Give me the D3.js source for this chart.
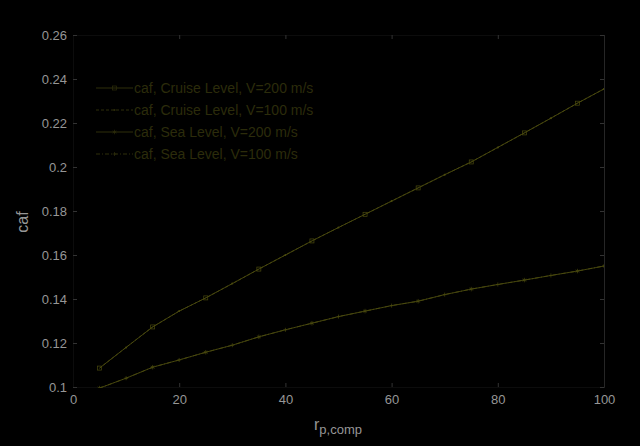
<!DOCTYPE html>
<html><head><meta charset="utf-8">
<script src="https://cdn.jsdelivr.net/npm/d3@7"></script>
<style>html,body{margin:0;padding:0;background:#000;}svg{display:block;}</style>
</head><body>
<svg id="c" width="640" height="446"></svg>
<script>
const xValues = [5,10,15,20,25,30,35,40,45,50,55,60,65,70,75,80,85,90,95,100];
const cruise200 = [0.1086,0.1180,0.1273,0.1345,0.1405,0.1470,0.1536,0.1600,0.1664,0.1725,0.1785,0.1845,0.1905,0.1965,0.2023,0.2089,0.2155,0.2222,0.2290,0.2355];
const cruise100 = [0.1086,0.1180,0.1273,0.1345,0.1405,0.1470,0.1536,0.1600,0.1664,0.1725,0.1785,0.1845,0.1905,0.1965,0.2023,0.2089,0.2155,0.2222,0.2290,0.2355];
const sea200 = [0.0995,0.1040,0.1090,0.1123,0.1158,0.1190,0.1228,0.1260,0.1290,0.1320,0.1345,0.1370,0.1390,0.1420,0.1445,0.1466,0.1486,0.1507,0.1527,0.1550];
const sea100 = [0.0995,0.1040,0.1090,0.1123,0.1158,0.1190,0.1228,0.1260,0.1290,0.1320,0.1345,0.1370,0.1390,0.1420,0.1445,0.1466,0.1486,0.1507,0.1527,0.1550];
const seriesNames = ["caf, Cruise Level, V=200 m/s","caf, Cruise Level, V=100 m/s","caf, Sea Level, V=200 m/s","caf, Sea Level, V=100 m/s"];
const xTicks = [0,20,40,60,80,100];
const yTicks = [0.1,0.12,0.14,0.16,0.18,0.2,0.22,0.24,0.26];
const yTickLabels = ["0.1","0.12","0.14","0.16","0.18","0.2","0.22","0.24","0.26"];

(function(){
const series = [
  {name: seriesNames[0], values: cruise200, marker: "square", dash: null},
  {name: seriesNames[1], values: cruise100, marker: "dot", dash: "3,2"},
  {name: seriesNames[2], values: sea200, marker: "star", dash: null},
  {name: seriesNames[3], values: sea100, marker: "plus", dash: "4,2,1,2"}
];

const svg = d3.select("#c");
const m = {l:73, r:36, t:35, b:59};
const W = 640, H = 446;
const x = d3.scaleLinear().domain([0,100]).range([m.l, W-m.r]);
const y = d3.scaleLinear().domain([0.1,0.26]).range([H-m.b, m.t]);

svg.append("rect").attr("width",W).attr("height",H).attr("fill","#000");

const lineCol = "#4a4a0e";
const axisCol = "#0c0c0c";
const tickCol = "#333";
const labCol = "#969696";

svg.append("defs").append("clipPath").attr("id","clip").append("rect")
  .attr("x",m.l).attr("y",m.t-1).attr("width",W-m.l-m.r).attr("height",H-m.t-m.b+2);

const gBottom = svg.append("g").attr("transform",`translate(0,${H-m.b})`)
  .call(d3.axisBottom(x).tickValues(xTicks).tickSize(-4).tickPadding(8).tickFormat(d3.format("d")));
const gTop = svg.append("g").attr("transform",`translate(0,${m.t})`)
  .call(d3.axisTop(x).tickValues(xTicks).tickSize(-4).tickFormat(""));
const gLeft = svg.append("g").attr("transform",`translate(${m.l},0)`)
  .call(d3.axisLeft(y).tickValues(yTicks).tickSize(-4).tickPadding(6).tickFormat((d,i)=>yTickLabels[i]));
const gRight = svg.append("g").attr("transform",`translate(${W-m.r},0)`)
  .call(d3.axisRight(y).tickValues(yTicks).tickSize(-4).tickFormat(""));
[gBottom,gTop,gLeft,gRight].forEach(g=>{
  g.select(".domain").attr("stroke",axisCol);
  g.selectAll(".tick line").attr("stroke",tickCol);
  g.selectAll("text").attr("fill",labCol).attr("font-family","Liberation Sans, Arial, sans-serif").attr("font-size",13);
});
gRight.select(".domain").attr("stroke","#262626");

const plot = svg.append("g").attr("clip-path","url(#clip)");
const line = d3.line().x((d,i)=>x(xValues[i])).y(d=>y(d));
function drawMarker(g, type, cx, cy, col){
  const s = 2;
  if(type==="square"){
    g.append("rect").attr("x",cx-s).attr("y",cy-s).attr("width",2*s).attr("height",2*s)
      .attr("fill","none").attr("stroke",col).attr("stroke-width",0.7);
  } else if(type==="dot"){
    g.append("circle").attr("cx",cx).attr("cy",cy).attr("r",1).attr("fill",col);
  } else if(type==="star"){
    g.append("path").attr("d",d3.symbol(d3.symbolAsterisk||d3.symbolCross,14)()).attr("transform",`translate(${cx},${cy})`)
      .attr("fill","none").attr("stroke",col).attr("stroke-width",0.7);
  } else {
    g.append("path").attr("d",`M${cx-s},${cy}H${cx+s}M${cx},${cy-s}V${cy+s}`)
      .attr("stroke",col).attr("stroke-width",0.7);
  }
}
series.forEach((s,si)=>{
  plot.append("path").datum(s.values).attr("d",line).attr("fill","none")
    .attr("stroke",lineCol).attr("stroke-width",0.9).attr("stroke-dasharray",s.dash);
  const mg = plot.append("g");
  s.values.forEach((v,i)=>{ if(i%2===si%2) drawMarker(mg, s.marker, x(xValues[i]), y(v), lineCol); });
});

const legY = [88,110,132,154];
const legCol = "#2e2e0b";
const lg = svg.append("g");
series.forEach((s,i)=>{
  const yy = legY[i];
  lg.append("line").attr("x1",96).attr("x2",133).attr("y1",yy).attr("y2",yy)
    .attr("stroke",legCol).attr("stroke-width",1).attr("stroke-dasharray",s.dash);
  drawMarker(lg, s.marker, 114.5, yy, legCol);
  lg.append("text").attr("x",134).attr("y",yy+5).text(s.name)
    .attr("fill","#2c2c0b").attr("font-family","Liberation Sans, Arial, sans-serif").attr("font-size",14);
});

const xl = svg.append("text").attr("x",338).attr("y",430).attr("text-anchor","middle")
  .attr("fill",labCol).attr("font-family","Liberation Sans, Arial, sans-serif").attr("font-size",16);
xl.append("tspan").text("r");
xl.append("tspan").attr("font-size",13).attr("dy",4).text("p,comp");
svg.append("text").attr("transform","translate(28,222) rotate(-90)").attr("text-anchor","middle")
  .attr("fill",labCol).attr("font-family","Liberation Sans, Arial, sans-serif").attr("font-size",16).text("caf");
})();
</script>
</body></html>
